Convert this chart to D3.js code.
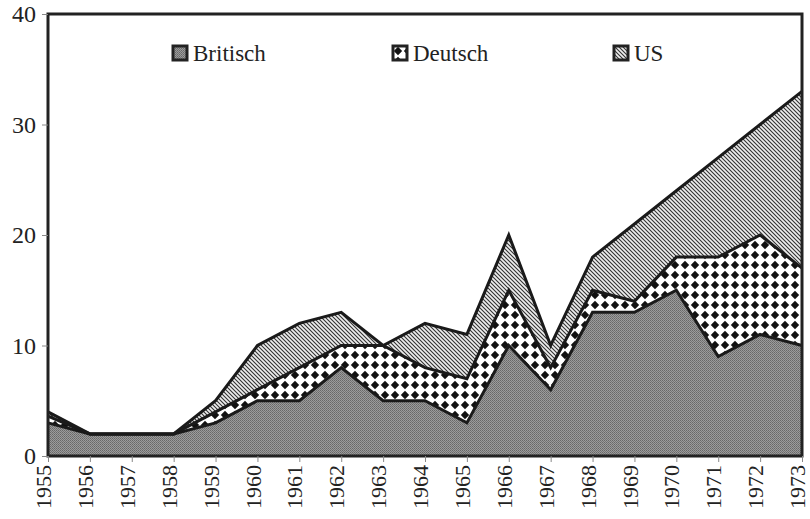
<!doctype html>
<html>
<head>
<meta charset="utf-8">
<title>Britisch Deutsch US</title>
<script src="https://d3js.org/d3.v7.min.js"></script>
<style>
  body { margin:0; background:#fff; }
  text { font-family:"Liberation Serif", "Times New Roman", serif; fill:#222; }
</style>
</head>
<body>
<svg id="chart" width="810" height="519"></svg>
<script>
// data
const years    = [1955,1956,1957,1958,1959,1960,1961,1962,1963,1964,1965,1966,1967,1968,1969,1970,1971,1972,1973];
const britisch = [3, 2, 2, 2, 3, 5, 5, 8, 5, 5, 3, 10, 6, 13, 13, 15, 9, 11, 10];
const deutsch  = [0.6, 0, 0, 0, 1, 1, 3, 2, 5, 3, 4, 5, 2, 2, 1, 3, 9, 9, 7];
const us       = [0.4, 0, 0, 0, 1, 4, 4, 3, 0, 4, 4, 5, 2, 3, 7, 6, 9, 10, 16];
const seriesNames = ["Britisch", "Deutsch", "US"];
const yTicks = [0, 10, 20, 30, 40];

const svg = d3.select("#chart");
const margin = {left:48, right:8, top:14, bottom:63};
const W = 810, H = 519;

const x = d3.scaleLinear().domain([1955, 1973]).range([margin.left, W - margin.right]);
const y = d3.scaleLinear().domain([0, 40]).range([H - margin.bottom, margin.top]);

// patterns
const defs = svg.append("defs");

let pb = defs.append("pattern").attr("id", "pBrit").attr("patternUnits", "userSpaceOnUse")
  .attr("width", 2).attr("height", 2);
pb.append("rect").attr("width", 2).attr("height", 2).attr("fill", "#9c9c9c");
pb.append("rect").attr("width", 1).attr("height", 1).attr("fill", "#686868");
pb.append("rect").attr("x", 1).attr("y", 1).attr("width", 1).attr("height", 1).attr("fill", "#757575");

let pd = defs.append("pattern").attr("id", "pDeut").attr("patternUnits", "userSpaceOnUse")
  .attr("width", 10).attr("height", 10);
pd.append("rect").attr("width", 10).attr("height", 10).attr("fill", "#fff");
pd.append("path").attr("d", "M5,0.8L9.2,5L5,9.2L0.8,5Z").attr("fill", "#111");

let pu = defs.append("pattern").attr("id", "pUS").attr("patternUnits", "userSpaceOnUse")
  .attr("width", 4).attr("height", 4);
pu.append("rect").attr("width", 4).attr("height", 4).attr("fill", "#eee");
pu.append("path").attr("d", "M-1,-1L5,5M-1,3L1,5M3,-1L5,1").attr("stroke", "#333").attr("stroke-width", 1.1);

const fills = ["url(#pBrit)", "url(#pDeut)", "url(#pUS)"];

// stacked areas
const rows = years.map((yr, i) => ({year: yr, Britisch: britisch[i], Deutsch: deutsch[i], US: us[i]}));
const stack = d3.stack().keys(seriesNames)(rows);

const area = d3.area().x(d => x(d.data.year)).y0(d => y(d[0])).y1(d => y(d[1]));
const line = d3.line().x(d => x(d.data.year)).y(d => y(d[1]));

svg.append("g").selectAll("path").data(stack).join("path")
  .attr("d", area).attr("fill", (d, i) => fills[i]);

svg.append("g").selectAll("path").data(stack).join("path")
  .attr("d", line).attr("fill", "none").attr("stroke", "#1a1a1a")
  .attr("stroke-width", 3).attr("stroke-linejoin", "miter");

// frame
svg.append("rect").attr("x", x(1955)).attr("y", y(40))
  .attr("width", x(1973) - x(1955)).attr("height", y(0) - y(40))
  .attr("fill", "none").attr("stroke", "#222").attr("stroke-width", 3);

// axes
const yAxis = svg.append("g").attr("transform", `translate(${margin.left},0)`)
  .call(d3.axisLeft(y).tickValues(yTicks).tickSize(6).tickPadding(6).tickFormat(d3.format("d")));
yAxis.select(".domain").remove();
yAxis.selectAll("line").attr("stroke", "#888");
yAxis.selectAll("text").attr("font-size", 24).attr("fill", "#222");

const xAxis = svg.append("g").attr("transform", `translate(0,${H - margin.bottom})`)
  .call(d3.axisBottom(x).tickValues(years).tickSize(6).tickFormat(d3.format("d")));
xAxis.select(".domain").remove();
xAxis.selectAll("line").attr("stroke", "#888");
xAxis.selectAll("text")
  .attr("font-size", 22).attr("fill", "#222")
  .attr("transform", "rotate(-90)").attr("text-anchor", "end")
  .attr("x", -9).attr("y", -4).attr("dy", "0.3em");

// legend
const legendX = [173, 393, 614];
const lg = svg.append("g").selectAll("g").data(seriesNames).join("g")
  .attr("transform", (d, i) => `translate(${legendX[i]},46)`);
lg.append("rect").attr("width", 14).attr("height", 14)
  .attr("fill", (d, i) => fills[i]).attr("stroke", "#222").attr("stroke-width", 3);
lg.append("text").attr("x", 20).attr("y", 7).attr("dy", "0.35em")
  .attr("font-size", 23).text(d => d);
</script>
</body>
</html>
